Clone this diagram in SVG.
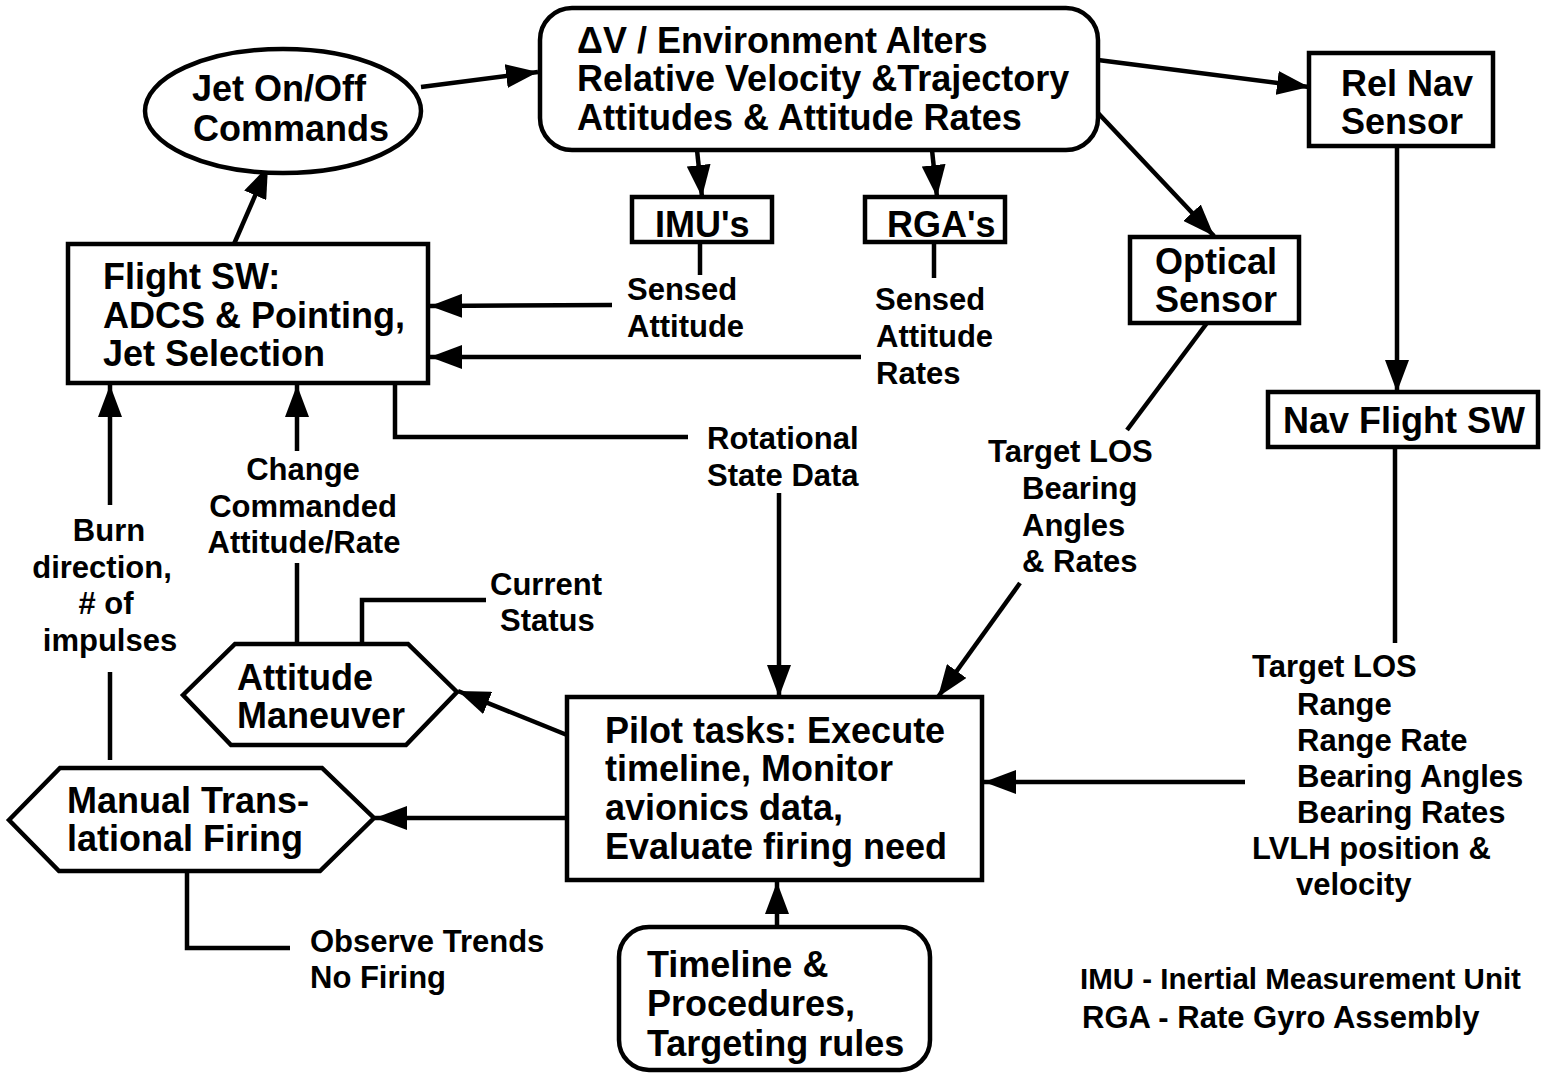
<svg xmlns="http://www.w3.org/2000/svg" width="1541" height="1073" viewBox="0 0 1541 1073">
<style>
.shape{fill:#fff;stroke:#000;stroke-width:4.5}
.big{font-family:"Liberation Sans",Arial,Helvetica,sans-serif;font-weight:bold;font-size:36px;fill:#000}
.small{font-family:"Liberation Sans",Arial,Helvetica,sans-serif;font-weight:bold;font-size:31px;fill:#000}
.ln{fill:none;stroke:#000;stroke-width:4.5}
</style>
<defs>
<marker id="ah" markerUnits="userSpaceOnUse" markerWidth="32" markerHeight="24" refX="32" refY="12" orient="auto" viewBox="0 0 32 24">
<path d="M0,0 L32,12 L0,24 z" fill="#000"/>
</marker>
</defs>
<rect width="1541" height="1073" fill="#fff"/>

<g id="connectors">
<path class="ln" d="M421,87 L538,72" marker-end="url(#ah)"/>
<path class="ln" d="M1098,60 L1309,87" marker-end="url(#ah)"/>
<path class="ln" d="M697,150 L702,197" marker-end="url(#ah)"/>
<path class="ln" d="M932,150 L937,197" marker-end="url(#ah)"/>
<path class="ln" d="M1098,113 L1214,236" marker-end="url(#ah)"/>
<path class="ln" d="M1397,146 L1397,392" marker-end="url(#ah)"/>
<path class="ln" d="M1395,447 L1395,643"/>
<path class="ln" d="M700,242 L700,275"/>
<path class="ln" d="M612,305 L430,306" marker-end="url(#ah)"/>
<path class="ln" d="M934,242 L934,278"/>
<path class="ln" d="M861,357 L430,357" marker-end="url(#ah)"/>
<path class="ln" d="M395,383 L395,437 L688,437"/>
<path class="ln" d="M779,493 L779,697" marker-end="url(#ah)"/>
<path class="ln" d="M1207,323 L1127,430"/>
<path class="ln" d="M1020,583 L938,697" marker-end="url(#ah)"/>
<path class="ln" d="M1245,782 L984,782" marker-end="url(#ah)"/>
<path class="ln" d="M567,735 L458,691" marker-end="url(#ah)"/>
<path class="ln" d="M567,818 L375,818" marker-end="url(#ah)"/>
<path class="ln" d="M777,927 L777,882" marker-end="url(#ah)"/>
<path class="ln" d="M234,244 L268,166" marker-end="url(#ah)"/>
<path class="ln" d="M297,451 L297,385" marker-end="url(#ah)"/>
<path class="ln" d="M297,563 L297,644"/>
<path class="ln" d="M362,644 L362,600 L486,600"/>
<path class="ln" d="M110,505 L110,385" marker-end="url(#ah)"/>
<path class="ln" d="M110,672 L110,760"/>
<path class="ln" d="M187,871 L187,948 L290,948"/>
</g>

<g id="dv-environment">
<rect class="shape" x="540" y="8" width="558" height="142" rx="32"/>
<text class="big" x="577" y="53">ΔV / Environment Alters</text>
<text class="big" x="577" y="91">Relative Velocity &amp;Trajectory</text>
<text class="big" x="577" y="130">Attitudes &amp; Attitude Rates</text>
</g>

<g id="jet-commands">
<ellipse class="shape" cx="283" cy="111" rx="138" ry="62"/>
<text class="big" x="192" y="101">Jet On/Off</text>
<text class="big" x="193" y="141">Commands</text>
</g>

<g id="rel-nav-sensor">
<rect class="shape" x="1309" y="53" width="184" height="93"/>
<text class="big" x="1341" y="96">Rel Nav</text>
<text class="big" x="1341" y="134">Sensor</text>
</g>

<g id="imus">
<rect class="shape" x="632" y="197" width="140" height="45"/>
<text class="big" x="655" y="237">IMU's</text>
</g>

<g id="rgas">
<rect class="shape" x="865" y="197" width="140" height="45"/>
<text class="big" x="887" y="237">RGA's</text>
</g>

<g id="optical-sensor">
<rect class="shape" x="1130" y="237" width="169" height="86"/>
<text class="big" x="1155" y="274">Optical</text>
<text class="big" x="1155" y="312">Sensor</text>
</g>

<g id="nav-flight-sw">
<rect class="shape" x="1268" y="392" width="270" height="55"/>
<text class="big" x="1283" y="433">Nav Flight SW</text>
</g>

<g id="flight-sw">
<rect class="shape" x="68" y="244" width="360" height="139"/>
<text class="big" x="103" y="289">Flight SW:</text>
<text class="big" x="103" y="328">ADCS &amp; Pointing,</text>
<text class="big" x="103" y="366">Jet Selection</text>
</g>

<g id="pilot-tasks">
<rect class="shape" x="567" y="697" width="415" height="183"/>
<text class="big" x="605" y="743">Pilot tasks: Execute</text>
<text class="big" x="605" y="781">timeline, Monitor</text>
<text class="big" x="605" y="820">avionics data,</text>
<text class="big" x="605" y="859">Evaluate firing need</text>
</g>

<g id="attitude-maneuver">
<polygon class="shape" points="183,695 235,644 408,644 457,692 406,745 231,745"/>
<text class="big" x="237" y="690">Attitude</text>
<text class="big" x="237" y="728">Maneuver</text>
</g>

<g id="manual-firing">
<polygon class="shape" points="9,820 60,768 322,768 374,818 320,871 59,871"/>
<text class="big" x="67" y="813">Manual Trans-</text>
<text class="big" x="67" y="851">lational Firing</text>
</g>

<g id="timeline-procedures">
<rect class="shape" x="619" y="927" width="311" height="143" rx="30"/>
<text class="big" x="647" y="977">Timeline &amp;</text>
<text class="big" x="647" y="1016">Procedures,</text>
<text class="big" x="647" y="1056">Targeting rules</text>
</g>

<g id="labels">
<text class="small" x="627" y="300">Sensed</text>
<text class="small" x="627" y="337">Attitude</text>
<text class="small" x="875" y="310">Sensed</text>
<text class="small" x="876" y="347">Attitude</text>
<text class="small" x="876" y="384">Rates</text>
<text class="small" x="707" y="449">Rotational</text>
<text class="small" x="707" y="486">State Data</text>
<text class="small" x="988" y="462">Target LOS</text>
<text class="small" x="1022" y="499">Bearing</text>
<text class="small" x="1022" y="536">Angles</text>
<text class="small" x="1022" y="572">&amp; Rates</text>
<text class="small" x="303" y="480" text-anchor="middle">Change</text>
<text class="small" x="303" y="517" text-anchor="middle">Commanded</text>
<text class="small" x="304" y="553" text-anchor="middle">Attitude/Rate</text>
<text class="small" x="109" y="541" text-anchor="middle">Burn</text>
<text class="small" x="102" y="578" text-anchor="middle">direction,</text>
<text class="small" x="106" y="614" text-anchor="middle"># of</text>
<text class="small" x="110" y="651" text-anchor="middle">impulses</text>
<text class="small" x="490" y="595">Current</text>
<text class="small" x="500" y="631">Status</text>
<text class="small" x="310" y="952">Observe Trends</text>
<text class="small" x="310" y="988">No Firing</text>
<text class="small" x="1252" y="677">Target LOS</text>
<text class="small" x="1297" y="715">Range</text>
<text class="small" x="1297" y="751">Range Rate</text>
<text class="small" x="1297" y="787">Bearing Angles</text>
<text class="small" x="1297" y="823">Bearing Rates</text>
<text class="small" x="1252" y="859">LVLH position &amp;</text>
<text class="small" x="1296" y="895">velocity</text>
<text class="small" x="1080" y="989" style="font-size:29.5px">IMU - Inertial Measurement Unit</text>
<text class="small" x="1082" y="1028">RGA - Rate Gyro Assembly</text>
</g>
</svg>
